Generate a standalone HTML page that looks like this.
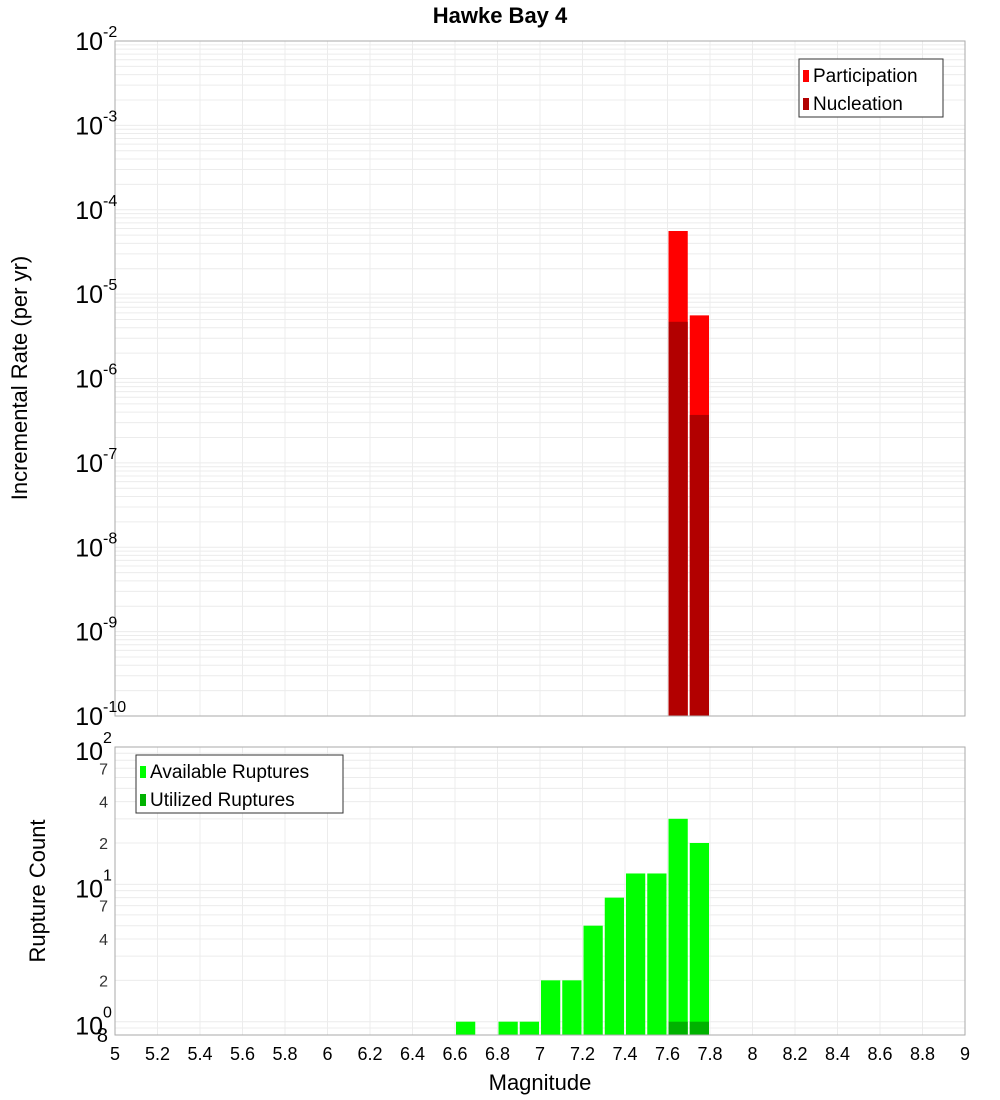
<!DOCTYPE html>
<html><head><meta charset="utf-8"><style>
body{margin:0;background:#fff}
svg{display:block;font-family:"Liberation Sans","DejaVu Sans",sans-serif}
</style></head><body>
<svg id="c" width="1000" height="1100"></svg>
<script>
const bins=[7.65,7.75];
const participation=[5.6e-5,5.6e-6];
const nucleation=[4.7e-6,3.7e-7];
const countBins=[6.65,6.85,6.95,7.05,7.15,7.25,7.35,7.45,7.55,7.65,7.75];
const available=[1,1,1,2,2,5,8,12,12,30,20];
const utilizedBins=[7.65,7.75];
const utilized=[1,1];
const xTicks=[5,5.2,5.4,5.6,5.8,6,6.2,6.4,6.6,6.8,7,7.2,7.4,7.6,7.8,8,8.2,8.4,8.6,8.8,9];
const topExps=[-10,-9,-8,-7,-6,-5,-4,-3,-2];
const botMinor=[2,4,7,20,40,70];

const NS="http://www.w3.org/2000/svg";
const svg=document.getElementById('c');
function el(t,a,p){const e=document.createElementNS(NS,t);for(const k in a)e.setAttribute(k,a[k]);(p||svg).appendChild(e);return e;}
const X0=115,X1=965;
const x=v=>X0+(v-5)/4*(X1-X0);
const T0=41,T1=716;
const yT=v=>T1-(Math.log10(v)+10)/8*(T1-T0);
const B0=747,B1=1035,bMin=Math.log10(0.8),bMax=2;
const yB=v=>B1-(Math.log10(v)-bMin)/(bMax-bMin)*(B1-B0);

// title
let t=el('text',{x:500,y:23,'text-anchor':'middle','font-size':22,'font-weight':'bold'});t.textContent='Hawke Bay 4';


// top grid
let g=el('g',{stroke:'#ececec','stroke-width':1});

for(let e=-10;e<-2;e++)for(let m=1;m<10;m++){const yy=yT(m*Math.pow(10,e));el('line',{x1:X0,x2:X1,y1:yy,y2:yy},g);}
xTicks.forEach(v=>{el('line',{x1:x(v),x2:x(v),y1:T0,y2:T1},g);});
// bottom grid
let g2=el('g',{stroke:'#ececec','stroke-width':1});

[0.8,0.9,1,2,3,4,5,6,7,8,9,10,20,30,40,50,60,70,80,90].forEach(v=>{const yy=yB(v);el('line',{x1:X0,x2:X1,y1:yy,y2:yy},g2);});
xTicks.forEach(v=>{el('line',{x1:x(v),x2:x(v),y1:B0,y2:B1},g2);});

const bw=(x(5.1)-x(5))-2;
// top bars
bins.forEach((b,i)=>{
 let r=el('rect',{x:x(b)-bw/2,y:yT(participation[i]),width:bw,height:T1-yT(participation[i]),fill:'#ff0000'});
 
 let r2=el('rect',{x:x(b)-bw/2,y:yT(nucleation[i]),width:bw,height:T1-yT(nucleation[i]),fill:'#b20000'});
 
});
countBins.forEach((b,i)=>{
 let r=el('rect',{x:x(b)-bw/2,y:yB(available[i]),width:bw,height:B1-yB(available[i]),fill:'#00ff00'});
 
});
utilizedBins.forEach((b,i)=>{
 let r=el('rect',{x:x(b)-bw/2,y:yB(utilized[i]),width:bw,height:B1-yB(utilized[i]),fill:'#00b200'});
 
});

// frames
let f1=el('rect',{x:X0,y:T0,width:X1-X0,height:T1-T0,fill:'none',stroke:'#aaa'});

let f2=el('rect',{x:X0,y:B0,width:X1-X0,height:B1-B0,fill:'none',stroke:'#aaa'});


// top y labels
topExps.forEach(e=>{
 const yy=yT(Math.pow(10,e));
 let tx=el('text',{x:103,y:yy+9,'text-anchor':'end','font-size':25});tx.textContent='10';
 
 let s=el('text',{x:103,y:yy-4,'font-size':16});s.textContent=String(e);
 
});
// bottom y labels
[0,1,2].forEach(e=>{
 const yy=yB(Math.pow(10,e));
 let tx=el('text',{x:103,y:yy+13,'text-anchor':'end','font-size':25});tx.textContent='10';
 
 let s=el('text',{x:103,y:yy-4,'font-size':16});s.textContent=String(e);
 
});
botMinor.forEach(v=>{
 const yy=yB(v);
 let tx=el('text',{x:108,y:yy+6,'text-anchor':'end','font-size':16,fill:'#333'});tx.textContent=String(v).charAt(0);
 
});
let e8=el('text',{x:108,y:1042,'text-anchor':'end','font-size':20});e8.textContent='8';


// x labels
xTicks.forEach(v=>{
 let tx=el('text',{x:x(v),y:1060,'text-anchor':'middle','font-size':18});tx.textContent=String(v);
 
});
let xt=el('text',{x:540,y:1090,'text-anchor':'middle','font-size':22});xt.textContent='Magnitude';

let yt1=el('text',{x:0,y:0,'text-anchor':'middle','font-size':22,transform:'translate(27,378) rotate(-90)'});yt1.textContent='Incremental Rate (per yr)';

let yt2=el('text',{x:0,y:0,'text-anchor':'middle','font-size':22,transform:'translate(45,891) rotate(-90)'});yt2.textContent='Rupture Count';


// legends
function legend(x0,y0,w,items,name){
 let lg=el('g',{});
 el('rect',{x:x0,y:y0,width:w,height:58,fill:'#fff',stroke:'#333'},lg);
 items.forEach((it,i)=>{
  el('rect',{x:x0+4,y:y0+11+i*28,width:6,height:12,fill:it[1]},lg);
  let tx=el('text',{x:x0+14,y:y0+23+i*28,'font-size':19},lg);tx.textContent=it[0];
 });
}
legend(799,59,144,[['Participation','#ff0000'],['Nucleation','#b20000']],'top-legend');
legend(136,755,207,[['Available Ruptures','#00ff00'],['Utilized Ruptures','#00b200']],'bottom-legend');
</script>
</body></html>
